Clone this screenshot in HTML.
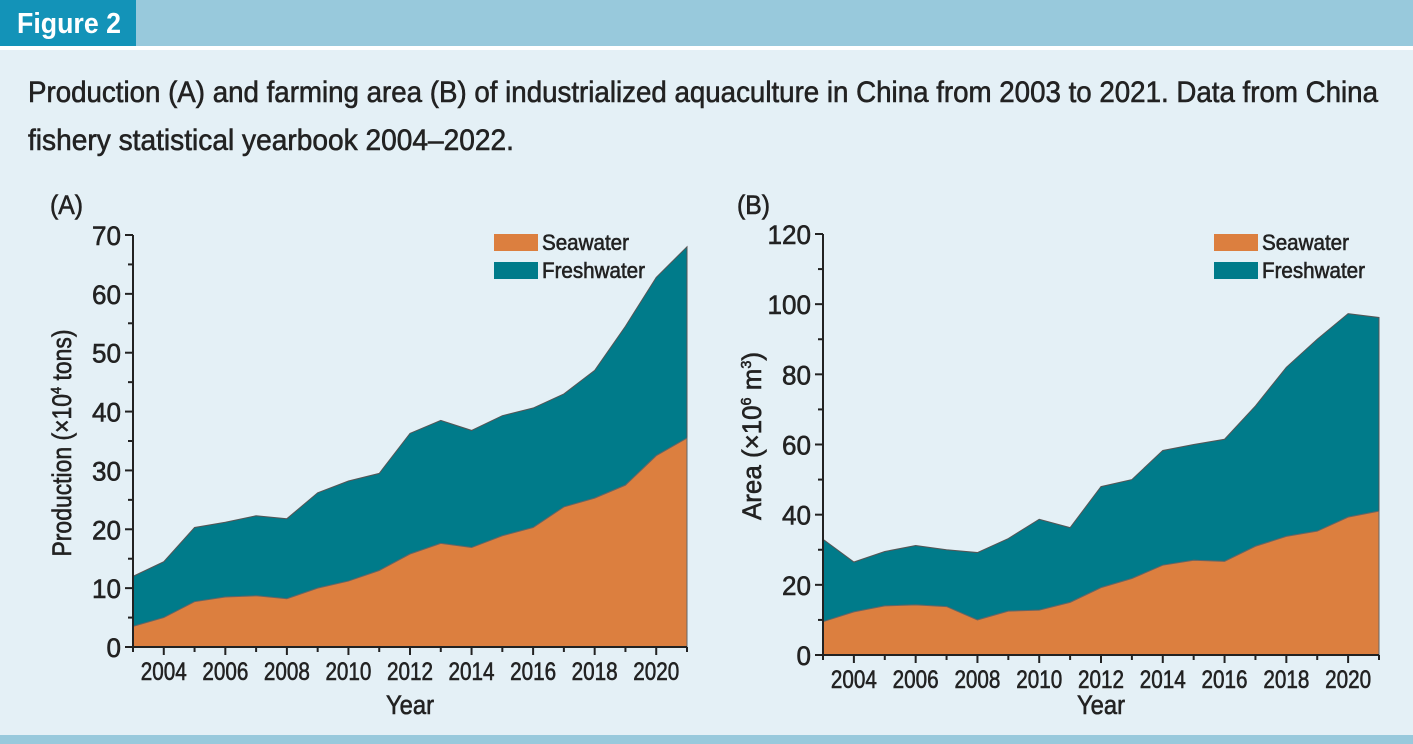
<!DOCTYPE html>
<html><head><meta charset="utf-8"><style>
body{margin:0;width:1413px;height:744px;overflow:hidden;background:#e4f0f6;}
svg{display:block;font-family:"Liberation Sans Narrow","Liberation Sans",sans-serif;}
.t{stroke:#222;stroke-width:0.6;}
</style></head><body>
<svg id="s" width="1413" height="744" viewBox="0 0 1413 744">
<rect x="0" y="0" width="1413" height="46" fill="#98c9dc"/>
<rect x="0" y="46" width="1413" height="4" fill="#ffffff"/>
<rect x="0" y="0" width="136" height="46" fill="#1393b8"/>
<text x="17" y="33" font-size="29" font-weight="bold" fill="#fff" textLength="104" lengthAdjust="spacingAndGlyphs">Figure 2</text>
<text x="28" y="102" font-size="30" fill="#222" class="t" textLength="1350" lengthAdjust="spacingAndGlyphs">Production (A) and farming area (B) of industrialized aquaculture in China from 2003 to 2021. Data from China</text>
<text x="28" y="150" font-size="30" fill="#222" class="t" textLength="486" lengthAdjust="spacingAndGlyphs">fishery statistical yearbook 2004–2022.</text>
<rect x="0" y="735" width="1413" height="9" fill="#98c9dc"/>
<g id="gA"></g><g id="gB"></g>
</svg>
<script>
const years=[2003,2004,2005,2006,2007,2008,2009,2010,2011,2012,2013,2014,2015,2016,2017,2018,2019,2020,2021];
const seaA=[3.5,5,7.7,8.5,8.7,8.2,10,11.2,13,15.8,17.6,16.9,18.9,20.3,23.8,25.3,27.5,32.5,35.5];
const totalA=[12,14.5,20.3,21.2,22.3,21.8,26.2,28.2,29.5,36.3,38.5,36.8,39.3,40.6,43,47,54.5,62.8,68];
const seaB=[9.5,12.3,14,14.3,13.8,10,12.5,12.8,15,19.2,21.8,25.6,27,26.7,31,33.8,35.3,39.3,41];
const totalB=[33,26.5,29.5,31.2,30,29.2,33.2,38.7,36.3,48,50,58.3,60,61.5,71,82,90,97.3,96.2];
const xTicks=[2004,2006,2008,2010,2012,2014,2016,2018,2020];
const yTicksA=[0,10,20,30,40,50,60,70];
const yTicksB=[0,20,40,60,80,100,120];
const NS='http://www.w3.org/2000/svg';
function mk(p,t,a,txt){const e=document.createElementNS(NS,t);for(const k in a)e.setAttribute(k,a[k]);if(txt!==undefined)e.textContent=txt;p.appendChild(e);return e;}
function chart(g,cfg){
  const x=v=>cfg.x0+(v-2003)/(2021-2003)*(cfg.x1-cfg.x0);
  const y=v=>cfg.y0-v/cfg.ymax*(cfg.y0-cfg.y1);
  const top=cfg.total.map((v,i)=>x(years[i])+','+y(v));
  const sea=cfg.sea.map((v,i)=>x(years[i])+','+y(v));
  let p=mk(g,'polygon',{points:top.join(' ')+' '+sea.slice().reverse().join(' '),fill:'#007b8a',stroke:'#555','stroke-width':1});
  
  
  p=mk(g,'polygon',{points:sea.join(' ')+' '+x(2021)+','+y(0)+' '+x(2003)+','+y(0),fill:'#dc7f3f',stroke:'#666','stroke-width':1});
  
  
  mk(g,'line',{x1:cfg.x0,y1:cfg.y0,x2:cfg.x1,y2:cfg.y0,stroke:'#222','stroke-width':2});
  mk(g,'line',{x1:cfg.x0,y1:cfg.y0,x2:cfg.x0,y2:cfg.y1,stroke:'#222','stroke-width':2});
  years.forEach(v=>{mk(g,'line',{x1:x(v),y1:cfg.y0,x2:x(v),y2:cfg.y0+(v%2?5:8),stroke:'#222','stroke-width':2});});
  xTicks.forEach(v=>{const t=mk(g,'text',{x:x(v)-23,y:cfg.y0+33,'font-size':25,fill:'#222',class:'t',textLength:46,lengthAdjust:'spacingAndGlyphs'},v);
    
    });
  const step=cfg.yt[1]-cfg.yt[0];
  for(let v=0;v<=cfg.ymax;v+=step/2){const maj=(v%step)===0;
    mk(g,'line',{x1:cfg.x0,y1:y(v),x2:cfg.x0-(maj?8:5),y2:y(v),stroke:'#222','stroke-width':2});}
  cfg.yt.forEach(v=>{const w=String(v).length*14.5;
    const t=mk(g,'text',{x:cfg.x0-12-w,y:y(v)+10,'font-size':27,fill:'#222',class:'t',textLength:w,lengthAdjust:'spacingAndGlyphs'},v);
    
    });
  let t=mk(g,'text',{x:(cfg.x0+cfg.x1)/2-24,y:714,'font-size':27,fill:'#222',class:'t',textLength:48,lengthAdjust:'spacingAndGlyphs'},'Year');
  
  
  t=mk(g,'text',{x:-cfg.ytl/2,y:0,'font-size':27,fill:'#222',class:'t',textLength:cfg.ytl,lengthAdjust:'spacingAndGlyphs',transform:'translate('+cfg.ytx+','+cfg.ytc+') rotate(-90)'});
  t.innerHTML=cfg.ytitle;
  
  
  t=mk(g,'text',{x:cfg.px,y:214,'font-size':27,fill:'#222',class:'t',textLength:33,lengthAdjust:'spacingAndGlyphs'},cfg.panel);
  
  
  [['Seawater','#dc7f3f',234,87],['Freshwater','#007b8a',262,103]].forEach(d=>{
    const r=mk(g,'rect',{x:cfg.lx,y:d[2],width:44,height:17,fill:d[1]});
    
    
    const l=mk(g,'text',{x:cfg.lx+48,y:d[2]+16,'font-size':22,fill:'#222',class:'t',textLength:d[3],lengthAdjust:'spacingAndGlyphs'},d[0]);
    
    
  });
}
chart(document.getElementById('gA'),{x0:133,x1:687,y0:647,y1:235,ymax:70,yt:yTicksA,sea:seaA,total:totalA,ytx:71,ytc:443,ytl:227,ytitle:'Production (×10<tspan font-size="15" dy="-10">4</tspan><tspan dy="10"> tons)</tspan>',px:50,panel:'(A)',lx:494});
chart(document.getElementById('gB'),{x0:823,x1:1379,y0:655,y1:234,ymax:120,yt:yTicksB,sea:seaB,total:totalB,ytx:761,ytc:436,ytl:168,ytitle:'Area (×10<tspan font-size="15" dy="-10">6</tspan><tspan dy="10"> m</tspan><tspan font-size="15" dy="-10">3</tspan><tspan dy="10">)</tspan>',px:737,panel:'(B)',lx:1214});
</script>
</body></html>
